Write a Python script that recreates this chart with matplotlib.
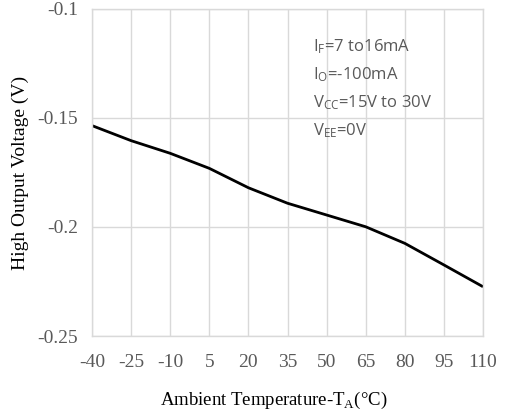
import matplotlib
matplotlib.use("Agg")
import matplotlib.pyplot as plt

temps = [-40, -25, -10, 5, 20, 35, 50, 65, 80, 95, 110]
voh = [-0.1535, -0.1604, -0.1662, -0.1731, -0.1820, -0.1891, -0.1945, -0.1999, -0.2075, -0.2174, -0.2274]
xticks = [-40, -25, -10, 5, 20, 35, 50, 65, 80, 95, 110]
yticks = [-0.25, -0.2, -0.15, -0.1]
ytick_labels = ["-0.25", "-0.2", "-0.15", "-0.1"]
notes = ["I$_\\mathregular{F}$=7 to16mA", "I$_\\mathregular{O}$=-100mA",
         "V$_\\mathregular{CC}$=15V to 30V", "V$_\\mathregular{EE}$=0V"]

plt.rcParams['mathtext.fontset'] = 'custom'
plt.rcParams['mathtext.rm'] = 'Open Sans'
plt.rcParams['mathtext.it'] = 'Open Sans'

fig = plt.figure(figsize=(5.07, 4.16), dpi=100)
ax = fig.add_axes([0.1815, 0.1923, 0.7712, 0.7861])

ax.plot(temps, voh, color='black', lw=2.0, solid_capstyle='butt')
ax.set_xlim(-40, 110)
ax.set_ylim(-0.25, -0.1)
ax.set_xticks(xticks)
ax.set_xticklabels([str(t) for t in xticks])
ax.set_yticks(yticks)
ax.set_yticklabels(ytick_labels)
ax.grid(True, color='#d9d9d9', lw=1.0)
ax.set_axisbelow(True)
for s in ax.spines.values():
    s.set_color('#d9d9d9')
    s.set_linewidth(1.0)
ax.tick_params(length=0, labelsize=14, labelcolor='#595959')
ax.tick_params(axis='x', pad=13)
ax.tick_params(axis='y', pad=10)
for lab in ax.get_xticklabels() + ax.get_yticklabels():
    lab.set_fontfamily('Liberation Serif')

xl = ax.set_xlabel("Ambient Temperature-T$_\\mathregular{A}$(°C)", fontsize=13.5,
                   family='Liberation Serif')
yl = ax.set_ylabel("High Output Voltage (V)", fontsize=14, family='Liberation Serif')
xl.set_verticalalignment('center')
yl.set_verticalalignment('center')
ax.xaxis.set_label_coords((274 - 92) / 391, (336 - 400) / 327)
ax.yaxis.set_label_coords((20 - 92) / 391, 0.5)

ys = [47, 75, 103, 131]
for t, y in zip(notes, ys):
    fig.text(313 / 507, 1 - y / 416, t, fontsize=12, color='#595959',
             family='Open Sans', va='center', ha='left')

fig.savefig("out.png", dpi=100)
